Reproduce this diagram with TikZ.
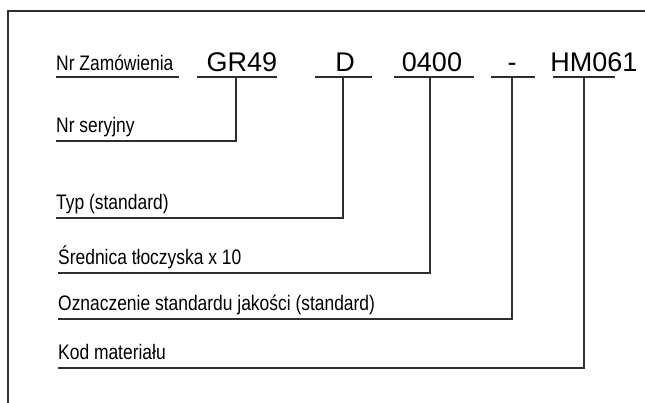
\documentclass[tikz,border=0pt]{standalone}
\usepackage{fontspec}
\setmainfont{Liberation Sans}
\newfontfamily\codefont{Liberation Sans}
\newfontfamily\labelfont[FakeStretch=0.83]{Liberation Sans}
\begin{document}
\begin{tikzpicture}[x=1pt,y=-1pt,
  rule/.style={line width=1.4pt, draw=black!82},
  code/.style={font=\codefont\fontsize{27}{30}\selectfont, inner xsep=0pt,
    inner ysep=5pt, text depth=0pt, anchor=south},
  lbl/.style={font=\labelfont\fontsize{21}{25}\selectfont, inner xsep=0pt,
    inner ysep=8pt, text depth=0pt, anchor=south west},
  head/.style={lbl, inner ysep=6pt}]
  \useasboundingbox (0,0) rectangle (645,403);

  % frame (open on the right and at the bottom)
  \draw[rule] (8,403) -- (8,11) -- (645,11);

  % order code line
  \node[head] (order) at (56,77) {Nr Zamówienia};
  \draw[rule] (order.south west) -- (179,77);

  \node[code] (gr)   at (242,77) {GR49};
  \node[code] (typ)  at (345,77) {D};
  \node[code] (dia)  at (432,77) {0400};
  \node[code] (dash) at (512,77) {-};
  \node[code] (mat)  at (594,77) {HM061};

  \draw[rule] (197,77) -- (277,77);
  \draw[rule] (315,77) -- (372,77);
  \draw[rule] (394,77) -- (474,77);
  \draw[rule] (491,77) -- (535,77);
  \draw[rule] (553,77) -- (615,77);

  % taps on the underlines
  \coordinate (grT)   at (236,77);
  \coordinate (typT)  at (343,77);
  \coordinate (diaT)  at (430,77);
  \coordinate (dashT) at (512,77);
  \coordinate (matT)  at (584,77);

  % explanations
  \node[lbl] (serial)  at (56,141) {Nr seryjny};
  \node[lbl] (kind)    at (56,218) {Typ (standard)};
  \node[lbl] (rod)     at (58,273) {Średnica tłoczyska x 10};
  \node[lbl] (quality) at (58,319) {Oznaczenie standardu jakości (standard)};
  \node[lbl] (mater)   at (58,368) {Kod materiału};

  % leader lines
  \draw[rule] (grT)   |- (serial.south west);
  \draw[rule] (typT)  |- (kind.south west);
  \draw[rule] (diaT)  |- (rod.south west);
  \draw[rule] (dashT) |- (quality.south west);
  \draw[rule] (matT)  |- (mater.south west);
\end{tikzpicture}
\end{document}
